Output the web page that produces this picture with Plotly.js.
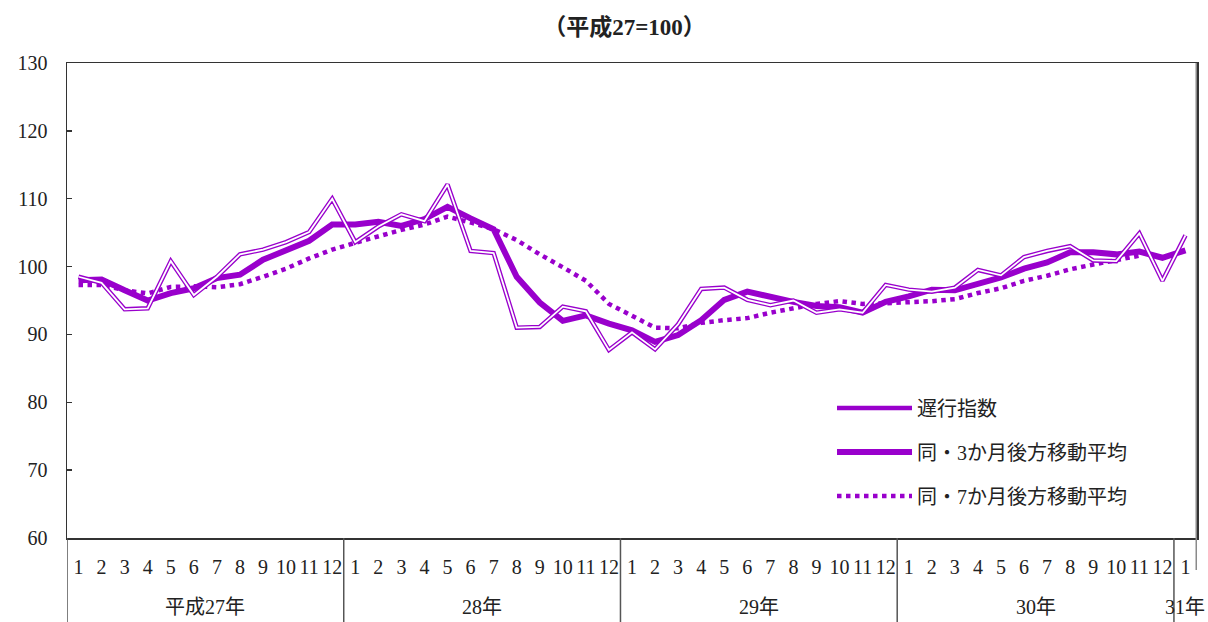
<!DOCTYPE html>
<html>
<head>
<meta charset="utf-8">
<script src="https://cdn.plot.ly/plotly-3.0.1.min.js"></script>
<style>html,body{margin:0;padding:0;background:#fff;}#chart{width:1208px;height:622px;}</style>
</head>
<body>
<div id="chart"></div>
<script>
// ---- data ----
const yearLabels = ['平成27年', '28年', '29年', '30年', '31年'];
const monthsPerYear = [12, 12, 12, 12, 1];
const monthLabels = ['1','2','3','4','5','6','7','8','9','10','11','12'];

const laggingIndex = [
  98.5, 97.6, 93.7, 93.85, 100.8, 95.8, 98.5, 101.8, 102.5, 103.6, 105.1, 110.0,
  103.6, 105.9, 107.7, 106.7, 112.1, 102.3, 102.0, 91.0, 91.1, 94.1, 93.4, 87.7,
  90.3, 87.8, 91.5, 96.7, 96.9, 95.1, 94.3, 95.0, 93.2, 93.7, 93.2, 97.3,
  96.6, 96.3, 96.9, 99.5, 98.7, 101.4, 102.3, 103.0, 100.9, 100.8, 104.9, 97.9,
  104.6
];
const ma3 = [
  98.0, 98.1, 96.5, 95.0, 96.1, 96.8, 98.3, 98.8, 101.0, 102.5, 103.8, 106.2,
  106.2, 106.6, 106.0, 107.0, 108.8, 107.1, 105.5, 98.5, 94.7, 92.0, 92.8, 91.6,
  90.6, 88.9, 89.9, 92.1, 95.1, 96.3, 95.5, 94.8, 94.2, 94.0, 93.2, 94.8,
  95.6, 96.6, 96.5, 97.5, 98.4, 99.7, 100.6, 102.1, 102.1, 101.8, 102.2, 101.3,
  102.4
];
const ma7 = [
  97.3, 97.3, 96.5, 96.05, 97.0, 97.1, 96.95, 97.4, 98.5, 99.7, 101.2, 102.5,
  103.5, 104.5, 105.4, 106.2, 107.35, 106.5, 105.5, 103.9, 101.8, 99.9, 97.9, 94.5,
  92.8, 91.0, 90.9, 91.7, 92.1, 92.4, 93.2, 93.85, 94.5, 94.9, 94.5, 94.6,
  94.7, 94.9, 95.2, 96.1, 96.8, 97.9, 98.65, 99.6, 100.3, 101.0, 101.6, null,
  null
];

const seriesNames = ['遅行指数', '同・3か月後方移動平均', '同・7か月後方移動平均'];

// build x positions (month index) and tick text
const xIdx = [], tickText = [];
const yearStart = [];
let k = 0;
yearLabels.forEach((y, yi) => {
  yearStart.push(k);
  for (let m = 0; m < monthsPerYear[yi]; m++) { xIdx.push(k); tickText.push(monthLabels[m]); k++; }
});
const nPts = xIdx.length;

const PURPLE = '#9900cc';
const FONT = "'Liberation Serif', 'Noto Sans CJK JP', serif";
const PLOT_H = 475, BOTTOM = 84;

const traces = [
  {
    x: xIdx, y: ma7, type: 'scatter', mode: 'lines', name: seriesNames[2],
    line: {color: PURPLE, width: 4.5, dash: 'dot'},
    legendgroup: 'g3', legendrank: 3, connectgaps: false
  },
  {
    x: xIdx, y: ma3, type: 'scatter', mode: 'lines', name: seriesNames[1],
    line: {color: PURPLE, width: 6},
    legendgroup: 'g2', legendrank: 2
  },
  {
    x: xIdx, y: laggingIndex, type: 'scatter', mode: 'lines', name: seriesNames[0],
    line: {color: PURPLE, width: 4.5},
    legendgroup: 'g1', legendrank: 1
  },
  {
    x: xIdx, y: laggingIndex, type: 'scatter', mode: 'lines', name: seriesNames[0],
    line: {color: '#ffffff', width: 1.8},
    legendgroup: 'g1', showlegend: false, hoverinfo: 'skip'
  }
];

// dividers between year groups and year labels
const shapes = [];
const annotations = [];
yearLabels.forEach((y, yi) => {
  const s = yearStart[yi];
  shapes.push({type: 'line', xref: 'x', yref: 'paper', x0: s - 0.5, x1: s - 0.5,
    y0: 0, y1: -BOTTOM / PLOT_H, line: {color: '#555', width: 1.5}});
  annotations.push({xref: 'x', yref: 'paper', x: s + (monthsPerYear[yi] - 1) / 2,
    y: -69 / PLOT_H, yanchor: 'middle', xanchor: 'center', showarrow: false,
    text: y, font: {family: FONT, size: 20, color: '#222'}});
});
// right edge (extends down to the month row)
shapes.push({type: 'line', xref: 'x', yref: 'paper', x0: nPts - 0.5, x1: nPts - 0.5,
  y0: 1, y1: -32 / PLOT_H, line: {color: '#8a8a8a', width: 3}});

const layout = {
  width: 1208, height: 622,
  margin: {l: 67, r: 11, t: 63, b: BOTTOM},
  paper_bgcolor: '#ffffff', plot_bgcolor: '#ffffff',
  font: {family: FONT, size: 20, color: '#222'},
  title: {
    text: '（平成27=100）', font: {family: FONT, size: 23, color: '#222', weight: 'bold'},
    x: 0.517, xanchor: 'center', y: 0.957, yanchor: 'middle', xref: 'container', yref: 'container'
  },
  xaxis: {
    type: 'linear', range: [-0.5, nPts - 0.5],
    tickmode: 'array', tickvals: xIdx, ticktext: tickText,
    showline: true, linecolor: '#333', linewidth: 1.5, mirror: true,
    ticks: '', showgrid: false, zeroline: false,
    ticklabelstandoff: 10,
    tickfont: {family: FONT, size: 20, color: '#222'},
    fixedrange: true
  },
  yaxis: {
    range: [60, 130], dtick: 10, tick0: 60,
    showline: true, linecolor: '#333', linewidth: 1.5, mirror: true,
    ticks: 'inside', ticklen: 5, tickcolor: '#333', tickwidth: 1.5,
    showgrid: false, zeroline: false,
    ticklabelstandoff: 14,
    tickfont: {family: FONT, size: 20, color: '#222'},
    fixedrange: true
  },
  shapes: shapes,
  annotations: annotations,
  showlegend: true,
  legend: {
    x: 0.677, y: 0.3145, xanchor: 'left', yanchor: 'top',
    bgcolor: 'rgba(0,0,0,0)', borderwidth: 0,
    traceorder: 'grouped', tracegroupgap: 15,
    font: {family: FONT, size: 20, color: '#222'},
    itemwidth: 75
  }
};

Plotly.newPlot('chart', traces, layout, {displayModeBar: false, staticPlot: true});
</script>
</body>
</html>
